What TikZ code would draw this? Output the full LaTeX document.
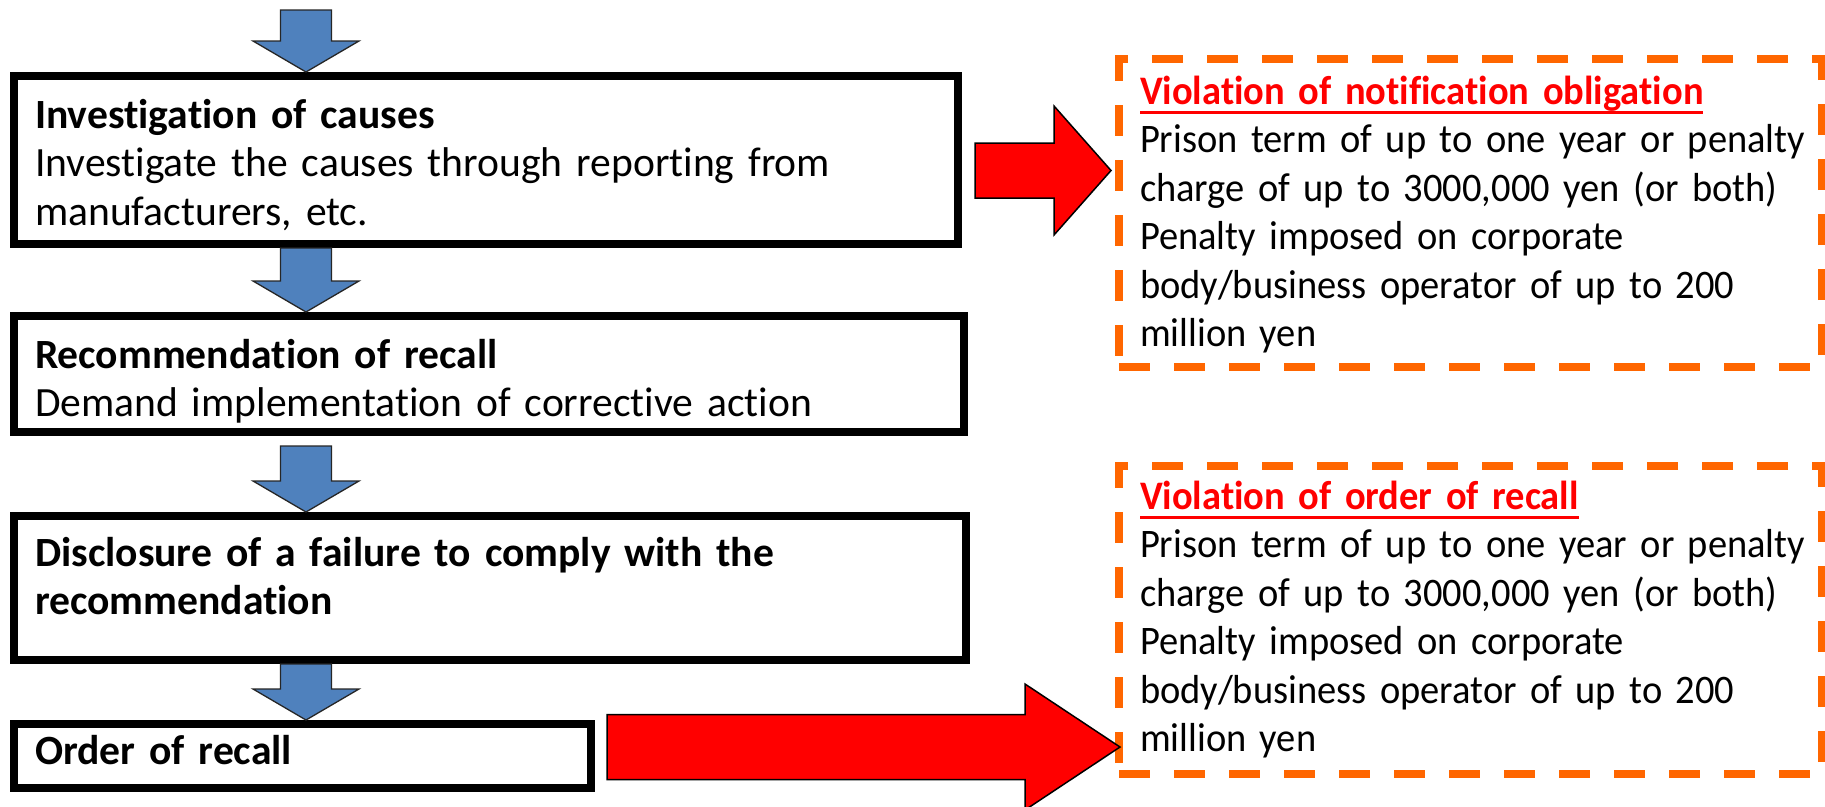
\documentclass[tikz,border=0pt]{standalone}
\usepackage{fontspec}
\setmainfont{Carlito}[Ligatures=CommonOff]
\newfontfamily\penaltyfont{Carlito}[Ligatures=CommonOff, FakeStretch=0.95]
\usetikzlibrary{calc}

\definecolor{flowblue}{HTML}{4F81BD}
\definecolor{penaltyorange}{HTML}{FF6600}
\definecolor{alertred}{HTML}{FF0000}

% strut that fixes the height of a first text line
\newcommand\tallstrut{\rule{0pt}{36pt}}
% bold red heading with a thick underline
\newsavebox\headingbox
\newcommand\ulheading[1]{\sbox\headingbox{\bfseries #1}%
  \rlap{\rule[-10pt]{\wd\headingbox}{3pt}}\usebox\headingbox}

% downward block arrow from #1 (top of shaft) to #2 (tip)
\newcommand\blockdown[2]{%
  \filldraw[flowarrow] ($(#1)+(-25.5,0)$) -- ($(#1)+(25.5,0)$)
    -- ($(#2)+(25.5,-31)$) -- ($(#2)+(53,-31)$) -- (#2)
    -- ($(#2)+(-53,-31)$) -- ($(#2)+(-25.5,-31)$) -- cycle;}
% rightward block arrow: tail #1, tip #2, shaft half height #3,
% head length #4, head half height #5
\newcommand\blockright[5]{%
  \filldraw[alertarrow] ($(#1)+(0,-#3)$) -- ($(#2)+(-#4,-#3)$)
    -- ($(#2)+(-#4,-#5)$) -- (#2) -- ($(#2)+(-#4,#5)$)
    -- ($(#2)+(-#4,#3)$) -- ($(#1)+(0,#3)$) -- cycle;}

\begin{document}
\begin{tikzpicture}[x=1pt,y=-1pt,
  stepbox/.style={draw=black, line width=8pt, fill=white, inner sep=0pt,
    outer sep=0pt, anchor=north west},
  penaltybox/.style={draw=penaltyorange, line width=8pt,
    dash pattern=on 31pt off 24pt, inner sep=0pt, outer sep=0pt,
    anchor=north west},
  steptext/.style={anchor=north west, inner sep=0pt, outer sep=0pt,
    align=left, text width=900pt, font=\fontsize{41.6}{48.5}\selectfont},
  penaltytext/.style={anchor=north west, inner sep=0pt, outer sep=0pt,
    align=left, text width=682pt,
    font=\penaltyfont\fontsize{40.5}{48.5}\selectfont},
  flowarrow/.style={fill=flowblue, draw=black!85, line width=1.3pt,
    line join=miter},
  alertarrow/.style={fill=alertred, draw=black, line width=1.5pt,
    line join=miter}
]
\fill[white] (0,0) rectangle (1825,806);
\useasboundingbox (0,0) rectangle (1825,806);

% procedure steps
\node[stepbox, minimum width=944pt, minimum height=168pt] (b1) at (14,76) {};
\node[stepbox, minimum width=950pt, minimum height=116pt] (b2) at (14,316) {};
\node[stepbox, minimum width=952pt, minimum height=144pt] (b3) at (14,516) {};
\node[stepbox, minimum width=577pt, minimum height=64pt] (b4) at (14,724) {};

\node[steptext] (t1) at (35,92) {\tallstrut\textbf{Investigation of causes}\\
  Investigate the causes through reporting from\\ manufacturers, etc.};
\node[steptext] (t2) at (35,332) {\tallstrut\textbf{Recommendation of recall}\\
  Demand implementation of corrective action};
\node[steptext] (t3) at (35,530) {\tallstrut\textbf{Disclosure of a failure to comply with the}\\
  \textbf{recommendation}};
\node[steptext] (t4) at (35,728) {\tallstrut\textbf{Order of recall}};

% penalty boxes
\node[penaltybox, minimum width=703pt, minimum height=308pt] (v1) at (1119,59) {};
\node[penaltybox, minimum width=703pt, minimum height=308pt] (v2) at (1119,466) {};

\node[penaltytext] (p1) at (1140,68) {\tallstrut\color{alertred}\ulheading{Violation of notification obligation}\\
  \color{black}Prison term of up to one year or penalty\\
  charge of up to 3000,000 yen (or both)\\
  Penalty imposed on corporate\\
  body/business operator of up to 200\\
  million yen};
\node[penaltytext] (p2) at (1140,473) {\tallstrut\color{alertred}\ulheading{Violation of order of recall}\\
  \color{black}Prison term of up to one year or penalty\\
  charge of up to 3000,000 yen (or both)\\
  Penalty imposed on corporate\\
  body/business operator of up to 200\\
  million yen};

% flow between steps
\coordinate (a1top) at (306,10);
\coordinate (a1tip) at ($(b1.north -| a1top)+(0,-4)$);
\coordinate (a2top) at ($(b1.south -| a1top)+(0,4)$);
\coordinate (a2tip) at ($(b2.north -| a1top)+(0,-4)$);
\coordinate (a3top) at ($(b2.south -| a1top)+(0,14)$);
\coordinate (a3tip) at ($(b3.north -| a1top)+(0,-4)$);
\coordinate (a4top) at ($(b3.south -| a1top)+(0,4)$);
\coordinate (a4tip) at ($(b4.north -| a1top)+(0,-4)$);
\blockdown{a1top}{a1tip}
\blockdown{a2top}{a2tip}
\blockdown{a3top}{a3tip}
\blockdown{a4top}{a4tip}

% links to the penalties
\coordinate (r1tail) at ($(b1.east)+(17,10.5)$);
\coordinate (r1tip) at ($(v1.west |- r1tail)+(-8,0)$);
\blockright{r1tail}{r1tip}{27.5}{57}{64.5}
\coordinate (r2tail) at ($(b4.east)+(16,-9)$);
\coordinate (r2tip) at ($(v2.west |- r2tail)+(1,0)$);
\blockright{r2tail}{r2tip}{32.5}{95}{63}
\end{tikzpicture}
\end{document}
